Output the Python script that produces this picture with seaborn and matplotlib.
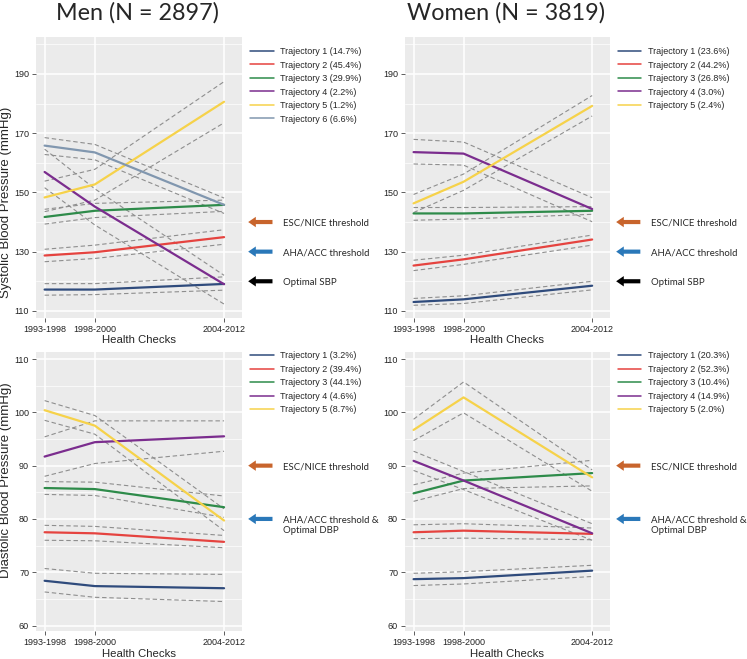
import pandas as pd
import matplotlib
matplotlib.use("Agg")
import matplotlib.pyplot as plt
import seaborn as sns

# health check periods (x positions = middle year of each period)
periods = ["1993-1998", "1998-2000", "2004-2012"]
period_mid = [(int(p[:4]) + int(p[5:])) / 2 for p in periods]

traj_colors = ["#2F4B7C", "#E5433F", "#2E8B4A", "#7B2D8E", "#F6D24A", "#8197AF"]

# Men, systolic
men_sbp_pct = [14.7, 45.4, 29.9, 2.2, 1.2, 6.6]
men_sbp_mean = [[117.2, 117.2, 119.1], [128.7, 129.8, 134.9], [141.7, 143.8, 145.8],
                [156.9, 145.2, 119.0], [148.3, 152.7, 180.6], [165.8, 163.5, 145.8]]
men_sbp_lo = [[115.3, 115.5, 117.0], [126.6, 127.7, 132.5], [139.3, 141.5, 143.6],
              [151.6, 139.0, 112.3], [143.5, 147.4, 173.5], [162.8, 161.0, 142.9]]
men_sbp_hi = [[119.2, 119.2, 121.5], [130.8, 132.2, 137.4], [144.3, 146.3, 147.4],
              [164.6, 151.2, 122.0], [153.8, 157.8, 187.4], [168.5, 166.2, 148.1]]

# Women, systolic
women_sbp_pct = [23.6, 44.2, 26.8, 3.0, 2.4]
women_sbp_mean = [[113.0, 113.9, 118.5], [125.3, 127.4, 134.1], [142.9, 142.9, 143.8],
                  [163.6, 163.1, 144.4], [146.3, 153.6, 179.2]]
women_sbp_lo = [[111.9, 112.5, 117.1], [123.6, 125.7, 132.2], [140.6, 141.0, 142.6],
                [159.6, 159.2, 140.1], [143.2, 150.7, 175.8]]
women_sbp_hi = [[114.2, 115.1, 120.0], [127.1, 128.8, 135.6], [144.9, 144.9, 145.2],
                [167.9, 167.0, 148.2], [149.3, 156.2, 182.7]]

# Men, diastolic
men_dbp_pct = [3.2, 39.4, 44.1, 4.6, 8.7]
men_dbp_mean = [[68.4, 67.4, 67.0], [77.5, 77.3, 75.7], [85.8, 85.6, 82.2],
                [91.7, 94.4, 95.5], [100.4, 97.5, 79.7]]
men_dbp_lo = [[66.3, 65.3, 64.5], [76.0, 75.9, 74.6], [84.6, 84.4, 80.3],
              [88.0, 90.4, 92.7], [98.5, 95.9, 77.8]]
men_dbp_hi = [[70.7, 69.8, 69.6], [78.8, 78.6, 76.9], [87.0, 86.9, 84.3],
              [95.4, 98.4, 98.4], [102.2, 99.4, 81.9]]

# Women, diastolic
women_dbp_pct = [20.3, 52.3, 10.4, 14.9, 2.0]
women_dbp_mean = [[68.7, 68.9, 70.3], [77.5, 77.8, 77.2], [84.8, 87.2, 88.6],
                  [90.9, 87.2, 77.3], [96.7, 102.8, 87.8]]
women_dbp_lo = [[67.5, 67.8, 69.2], [76.3, 76.4, 76.1], [83.3, 85.7, 86.2],
                [89.1, 85.5, 76.0], [94.7, 99.9, 85.2]]
women_dbp_hi = [[69.8, 70.1, 71.3], [78.9, 79.1, 78.3], [86.4, 88.6, 91.0],
                [92.7, 88.9, 79.1], [98.7, 105.7, 89.2]]

sbp_thresholds = [140, 130, 120]
sbp_threshold_labels = ["ESC/NICE threshold", "AHA/ACC threshold", "Optimal SBP"]
dbp_thresholds = [90, 80]
dbp_threshold_labels = ["ESC/NICE threshold", "AHA/ACC threshold &\nOptimal DBP"]
threshold_colors = ["#C8642C", "#2A78B9", "#000000"]

sns.set_style("white")
plt.rcParams["font.family"] = ["Liberation Sans", "DejaVu Sans"]

fig = plt.figure(figsize=(7.47, 6.59), dpi=100)


def to_frame(pct, mean, lo, hi):
    rows = []
    for i, p in enumerate(pct):
        lab = f"Trajectory {i + 1} ({p}%)"
        for j in range(len(periods)):
            rows.append({"traj": lab, "year": period_mid[j], "mean": mean[i][j],
                         "lo": lo[i][j], "hi": hi[i][j]})
    return pd.DataFrame(rows)


def draw_panel(rect, pct, mean, lo, hi, ylim, major, minor, thr, thr_labels, ylabel, ylab_y, leg_y):
    ax = fig.add_axes(rect)
    ax.set_facecolor("#EBEBEB")
    df = to_frame(pct, mean, lo, hi)
    for col in ["lo", "hi"]:
        sns.lineplot(data=df, x="year", y=col, units="traj", estimator=None, color="#8E8E8E",
                     lw=0.8, linestyle=(0, (4, 2.5)), legend=False, ax=ax)
    sns.lineplot(data=df, x="year", y="mean", hue="traj", palette=traj_colors[:len(pct)],
                 lw=1.6, ax=ax)
    sns.move_legend(ax, "upper left", bbox_to_anchor=(1.039, leg_y), frameon=False, title=None,
                    fontsize=6.5, handlelength=2.6, handletextpad=0.75, labelspacing=0.5,
                    borderpad=0, borderaxespad=0)
    for line in ax.get_legend().get_lines():
        line.set_linewidth(1.1)

    ax.set_xlim(1994.9, 2009.25)
    ax.set_ylim(*ylim)
    ax.set_xticks(period_mid)
    ax.set_xticklabels(periods)
    ax.set_yticks(major)
    ax.set_yticks(minor, minor=True)
    ax.grid(which="major", color="white", lw=1.1)
    ax.grid(which="minor", color="white", lw=0.5)
    ax.set_axisbelow(True)
    for s in ax.spines.values():
        s.set_visible(False)
    ax.tick_params(which="major", length=3, width=0.6, color="#444444", labelsize=6.5,
                   labelcolor="#222222", pad=2, bottom=True, left=True)
    ax.tick_params(which="minor", length=0)
    ax.set_xlabel("Health Checks", fontsize=8.2, labelpad=1)
    ax.set_ylabel(ylabel, fontsize=9.5)
    ax.yaxis.set_label_coords(-0.118, ylab_y)

    trans = ax.get_yaxis_transform()
    for lev, lab, c in zip(thr, thr_labels, threshold_colors):
        ax.annotate("", xy=(1.03, lev), xycoords=trans, xytext=(1.148, lev), textcoords=trans,
                    arrowprops=dict(arrowstyle="simple,head_length=0.55,head_width=0.75,tail_width=0.3",
                                    color=c, lw=0, shrinkA=0, shrinkB=0),
                    annotation_clip=False)
        # baseline alignment uses the last line, so push multi-line labels down
        extra = lab.count("\n") * 7.9
        ax.annotate(lab, xy=(1.2, lev), xycoords=trans, xytext=(0, -2.5 - extra),
                    textcoords="offset points", va="baseline", ha="left",
                    fontsize=6.9, family="Lato", annotation_clip=False, linespacing=1.2)
    return ax


top_rect_l = [36 / 747, 1 - 318 / 659, 206 / 747, 281.4 / 659]
top_rect_r = [405 / 747, 1 - 318 / 659, 205 / 747, 281.4 / 659]
bot_rect_l = [36 / 747, 1 - 631.4 / 659, 206 / 747, 279.3 / 659]
bot_rect_r = [405 / 747, 1 - 631.4 / 659, 205 / 747, 279.3 / 659]

sbp_major = [110, 130, 150, 170, 190]
sbp_minor = [120, 140, 160, 180, 200]
dbp_major = [60, 70, 80, 90, 100, 110]
dbp_minor = [65, 75, 85, 95, 105]

draw_panel(top_rect_l, men_sbp_pct, men_sbp_mean, men_sbp_lo, men_sbp_hi, (107.6, 202.6),
           sbp_major, sbp_minor, sbp_thresholds, sbp_threshold_labels,
           "Systolic Blood Pressure (mmHg)", 0.41, 0.963)
draw_panel(top_rect_r, women_sbp_pct, women_sbp_mean, women_sbp_lo, women_sbp_hi, (107.6, 202.6),
           sbp_major, sbp_minor, sbp_thresholds, sbp_threshold_labels, "", 0.41, 0.963)
draw_panel(bot_rect_l, men_dbp_pct, men_dbp_mean, men_dbp_lo, men_dbp_hi, (58.9, 111.3),
           dbp_major, dbp_minor, dbp_thresholds, dbp_threshold_labels,
           "Diastolic Blood Pressure (mmHg)", 0.54, 1.003)
draw_panel(bot_rect_r, women_dbp_pct, women_dbp_mean, women_dbp_lo, women_dbp_hi, (58.9, 111.3),
           dbp_major, dbp_minor, dbp_thresholds, dbp_threshold_labels, "", 0.54, 1.003)

fig.text(137 / 747, 0.980, "Men (N = 2897)", ha="center", va="center", fontsize=16.8, family="Lato")
fig.text(506 / 747, 0.980, "Women (N = 3819)", ha="center", va="center", fontsize=16.8, family="Lato")

fig.savefig("out.png", dpi=100)
